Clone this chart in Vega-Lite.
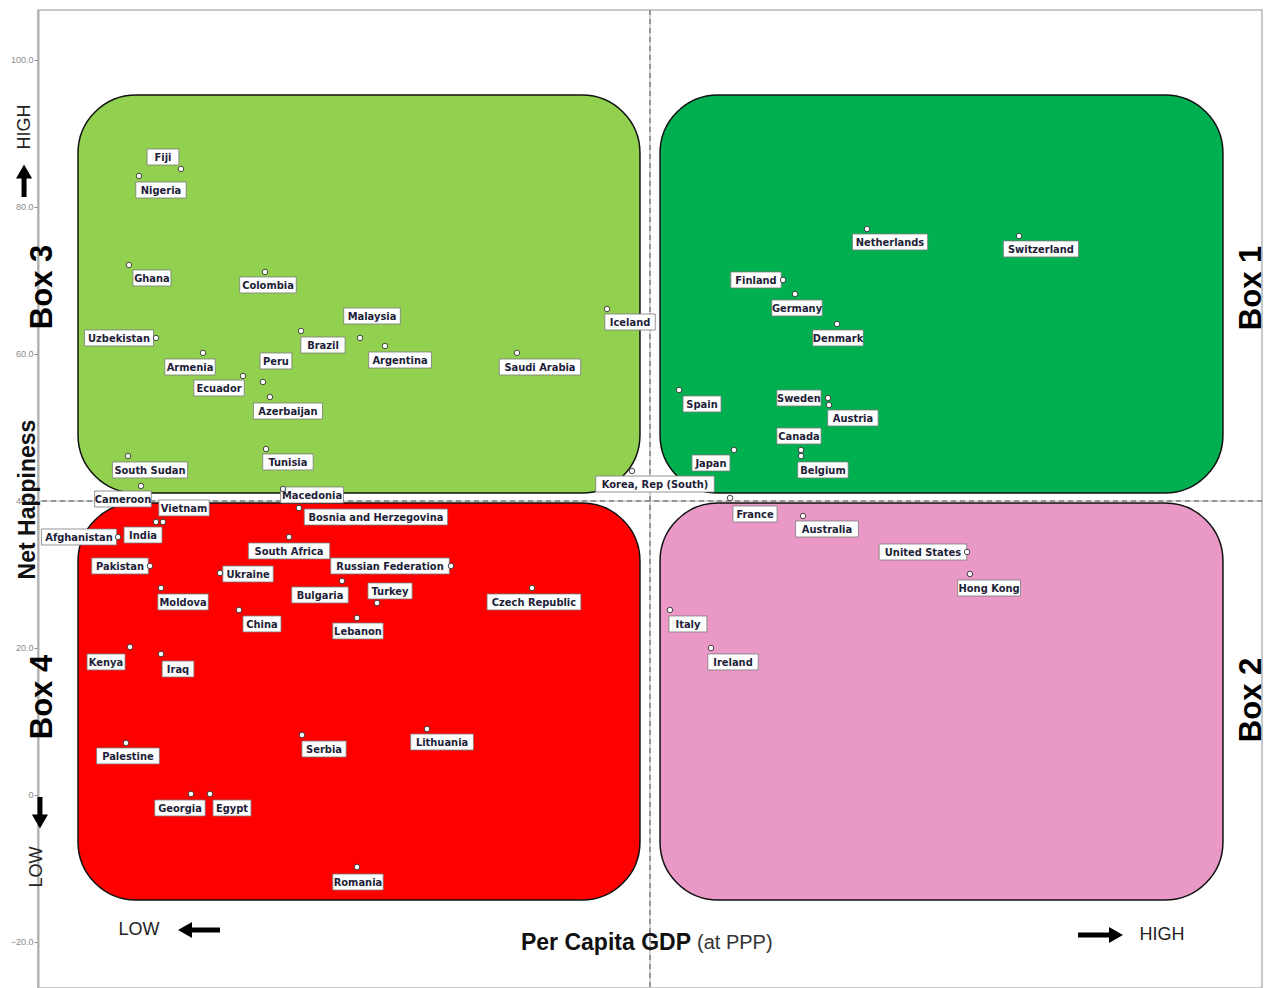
{
  "$schema": "https://vega.github.io/schema/vega-lite/v6.json",
  "width": 1224,
  "height": 978,
  "autosize": {"type": "none"},
  "padding": {"left": 38, "top": 10, "right": 10, "bottom": 0},
  "background": "white",
  "config": {"view": {"stroke": "#b5b5b5", "strokeWidth": 1.5}, "font": "Liberation Sans"},
  "datasets": {
    "boxes": [
      {"quadrant": "Box 3", "x1": 3.27, "x2": 49.18, "y1": 95.24, "y2": 41.09},
      {"quadrant": "Box 1", "x1": 50.82, "x2": 96.81, "y1": 95.24, "y2": 41.09},
      {"quadrant": "Box 4", "x1": 3.27, "x2": 49.18, "y1": 39.73, "y2": -14.29},
      {"quadrant": "Box 2", "x1": 50.82, "x2": 96.81, "y1": 39.73, "y2": -14.29}
    ],
    "countries": [
      {"name": "Fiji", "gdp": 11.68, "happiness": 85.17, "labelX": 10.21, "labelY": 86.8},
      {"name": "Nigeria", "gdp": 8.25, "happiness": 84.22, "labelX": 10.05, "labelY": 82.31},
      {"name": "Ghana", "gdp": 7.43, "happiness": 72.11, "labelX": 9.31, "labelY": 70.34},
      {"name": "Colombia", "gdp": 18.55, "happiness": 71.16, "labelX": 18.79, "labelY": 69.39},
      {"name": "Uzbekistan", "gdp": 9.64, "happiness": 62.18, "labelX": 6.62, "labelY": 62.18},
      {"name": "Malaysia", "gdp": 26.31, "happiness": 62.18, "labelX": 27.29, "labelY": 65.17},
      {"name": "Brazil", "gdp": 21.49, "happiness": 63.13, "labelX": 23.28, "labelY": 61.22},
      {"name": "Argentina", "gdp": 28.35, "happiness": 61.09, "labelX": 29.58, "labelY": 59.18},
      {"name": "Peru", "gdp": 18.38, "happiness": 56.19, "labelX": 19.44, "labelY": 59.05},
      {"name": "Ecuador", "gdp": 16.75, "happiness": 57.01, "labelX": 14.79, "labelY": 55.37},
      {"name": "Armenia", "gdp": 13.48, "happiness": 60.14, "labelX": 12.42, "labelY": 58.23},
      {"name": "Azerbaijan", "gdp": 18.95, "happiness": 54.15, "labelX": 20.42, "labelY": 52.24},
      {"name": "Tunisia", "gdp": 18.63, "happiness": 47.07, "labelX": 20.42, "labelY": 45.31},
      {"name": "Saudi Arabia", "gdp": 39.13, "happiness": 60.14, "labelX": 41.01, "labelY": 58.23},
      {"name": "Iceland", "gdp": 46.49, "happiness": 66.12, "labelX": 48.37, "labelY": 64.35},
      {"name": "South Sudan", "gdp": 7.35, "happiness": 46.12, "labelX": 9.15, "labelY": 44.22},
      {"name": "Cameroon", "gdp": 8.42, "happiness": 42.04, "labelX": 6.94, "labelY": 40.27},
      {"name": "Korea, Rep (South)", "gdp": 48.53, "happiness": 44.08, "labelX": 50.41, "labelY": 42.31},
      {"name": "Macedonia", "gdp": 20.02, "happiness": 41.63, "labelX": 22.39, "labelY": 40.82},
      {"name": "Vietnam", "gdp": 10.21, "happiness": 37.14, "labelX": 11.93, "labelY": 39.05},
      {"name": "India", "gdp": 9.64, "happiness": 37.14, "labelX": 8.58, "labelY": 35.37},
      {"name": "Afghanistan", "gdp": 6.54, "happiness": 35.1, "labelX": 3.35, "labelY": 35.1},
      {"name": "Pakistan", "gdp": 9.15, "happiness": 31.16, "labelX": 6.7, "labelY": 31.16},
      {"name": "Bosnia and Herzegovina", "gdp": 21.32, "happiness": 39.05, "labelX": 27.61, "labelY": 37.82},
      {"name": "South Africa", "gdp": 20.51, "happiness": 35.1, "labelX": 20.51, "labelY": 33.2},
      {"name": "Russian Federation", "gdp": 33.74, "happiness": 31.16, "labelX": 28.76, "labelY": 31.16},
      {"name": "Ukraine", "gdp": 14.87, "happiness": 30.2, "labelX": 17.16, "labelY": 30.07},
      {"name": "Moldova", "gdp": 10.05, "happiness": 28.16, "labelX": 11.85, "labelY": 26.26},
      {"name": "Bulgaria", "gdp": 24.84, "happiness": 29.12, "labelX": 23.04, "labelY": 27.21},
      {"name": "Turkey", "gdp": 27.7, "happiness": 26.12, "labelX": 28.76, "labelY": 27.76},
      {"name": "China", "gdp": 16.42, "happiness": 25.17, "labelX": 18.3, "labelY": 23.27},
      {"name": "Lebanon", "gdp": 26.06, "happiness": 24.08, "labelX": 26.14, "labelY": 22.31},
      {"name": "Czech Republic", "gdp": 40.36, "happiness": 28.16, "labelX": 40.52, "labelY": 26.26},
      {"name": "Kenya", "gdp": 7.52, "happiness": 20.14, "labelX": 5.56, "labelY": 18.1},
      {"name": "Iraq", "gdp": 10.05, "happiness": 19.18, "labelX": 11.44, "labelY": 17.14},
      {"name": "Palestine", "gdp": 7.19, "happiness": 7.07, "labelX": 7.35, "labelY": 5.31},
      {"name": "Serbia", "gdp": 21.57, "happiness": 8.16, "labelX": 23.37, "labelY": 6.26},
      {"name": "Lithuania", "gdp": 31.78, "happiness": 8.98, "labelX": 33.01, "labelY": 7.21},
      {"name": "Georgia", "gdp": 12.5, "happiness": 0.14, "labelX": 11.6, "labelY": -1.77},
      {"name": "Egypt", "gdp": 14.05, "happiness": 0.14, "labelX": 15.85, "labelY": -1.77},
      {"name": "Romania", "gdp": 26.06, "happiness": -9.8, "labelX": 26.14, "labelY": -11.84},
      {"name": "Netherlands", "gdp": 67.73, "happiness": 77.01, "labelX": 69.61, "labelY": 75.24},
      {"name": "Switzerland", "gdp": 80.15, "happiness": 76.05, "labelX": 81.94, "labelY": 74.29},
      {"name": "Finland", "gdp": 60.87, "happiness": 70.07, "labelX": 58.66, "labelY": 70.07},
      {"name": "Germany", "gdp": 61.85, "happiness": 68.16, "labelX": 62.01, "labelY": 66.26},
      {"name": "Denmark", "gdp": 65.28, "happiness": 64.08, "labelX": 65.36, "labelY": 62.18},
      {"name": "Spain", "gdp": 52.37, "happiness": 55.1, "labelX": 54.25, "labelY": 53.2},
      {"name": "Sweden", "gdp": 64.54, "happiness": 54.01, "labelX": 62.17, "labelY": 54.01},
      {"name": "Austria", "gdp": 64.62, "happiness": 53.06, "labelX": 66.58, "labelY": 51.29},
      {"name": "Canada", "gdp": 62.34, "happiness": 46.94, "labelX": 62.17, "labelY": 48.84},
      {"name": "Belgium", "gdp": 62.34, "happiness": 46.12, "labelX": 64.13, "labelY": 44.22},
      {"name": "Japan", "gdp": 56.86, "happiness": 46.94, "labelX": 54.98, "labelY": 45.17},
      {"name": "France", "gdp": 56.54, "happiness": 40.41, "labelX": 58.58, "labelY": 38.23},
      {"name": "Australia", "gdp": 62.5, "happiness": 37.96, "labelX": 64.46, "labelY": 36.19},
      {"name": "United States", "gdp": 75.9, "happiness": 33.06, "labelX": 72.3, "labelY": 33.06},
      {"name": "Hong Kong", "gdp": 76.14, "happiness": 30.07, "labelX": 77.7, "labelY": 28.16},
      {"name": "Italy", "gdp": 51.63, "happiness": 25.17, "labelX": 53.1, "labelY": 23.27},
      {"name": "Ireland", "gdp": 54.98, "happiness": 20.0, "labelX": 56.78, "labelY": 18.1}
    ],
    "boxLabels": [
      {"label": "Box 3", "ax": 0.41, "ay": 69.12},
      {"label": "Box 4", "ax": 0.41, "ay": 13.33},
      {"label": "Box 1", "ax": 99.18, "ay": 68.98},
      {"label": "Box 2", "ax": 99.18, "ay": 12.93}
    ],
    "sideWords": [
      {"label": "HIGH", "ax": -1.06, "ay": 90.88},
      {"label": "LOW", "ax": -0.08, "ay": -9.8}
    ],
    "bottomWords": [
      {"label": "LOW", "ax": 8.25, "ay": -18.37},
      {"label": "HIGH", "ax": 91.83, "ay": -19.05}
    ],
    "shafts": [
      {"dir": "up", "ax": -1.14, "ay": 81.36, "ax2": -1.14, "ay2": 83.95},
      {"dir": "down", "ax": 0.16, "ay": -0.27, "ax2": 0.16, "ay2": -2.72},
      {"dir": "left", "ax": 12.42, "ay": -18.37, "ax2": 14.87, "ay2": -18.37},
      {"dir": "right", "ax": 84.97, "ay": -19.05, "ax2": 87.58, "ay2": -19.05}
    ],
    "heads": [
      {"dir": "up", "ax": -1.14, "ay": 84.83},
      {"dir": "down", "ax": 0.16, "ay": -3.61},
      {"dir": "left", "ax": 12.01, "ay": -18.37},
      {"dir": "right", "ax": 88.07, "ay": -19.05}
    ]
  },
  "layer": [
    {
      "data": {"name": "boxes"},
      "mark": {"type": "rect", "cornerRadius": 58, "stroke": "#111111", "strokeWidth": 1.5},
      "encoding": {
        "x": {"field": "x1", "type": "quantitative", "scale": {"domain": [0, 100], "nice": false, "zero": false}, "axis": null},
        "x2": {"field": "x2"},
        "y": {"field": "y1", "type": "quantitative", "scale": {"domain": [-26.26, 106.8], "nice": false, "zero": false},
          "axis": {"values": [-20, 0, 20, 40, 60, 80, 100], "labelExpr": "datum.value === 0 ? '0' : format(datum.value, '.1f')", "labelFontSize": 9, "labelColor": "#8a8a8a", "labelPadding": 1, "tickSize": 4, "tickColor": "#8a8a8a", "domainColor": "#b0b0b0", "domainWidth": 2, "grid": false, "title": null}},
        "y2": {"field": "y2"},
        "fill": {"field": "quadrant", "type": "nominal", "scale": {"domain": ["Box 1", "Box 2", "Box 3", "Box 4"], "range": ["#00B050", "#EA98C6", "#92D050", "#FF0000"]}, "legend": null}
      }
    },
    {
      "data": {"values": [{"gdp": 50}]},
      "mark": {"type": "rule", "color": "#c8c8c8", "strokeWidth": 1.5},
      "encoding": {"x": {"field": "gdp", "type": "quantitative", "scale": {"domain": [0, 100], "nice": false, "zero": false}}}
    },
    {
      "data": {"values": [{"happiness": 40}]},
      "mark": {"type": "rule", "color": "#c8c8c8", "strokeWidth": 1.5},
      "encoding": {"y": {"field": "happiness", "type": "quantitative", "scale": {"domain": [-26.26, 106.8], "nice": false, "zero": false}}}
    },
    {
      "data": {"values": [{"gdp": 50}]},
      "mark": {"type": "rule", "color": "#555555", "strokeWidth": 1, "strokeDash": [5, 4]},
      "encoding": {"x": {"field": "gdp", "type": "quantitative", "scale": {"domain": [0, 100], "nice": false, "zero": false}}}
    },
    {
      "data": {"values": [{"happiness": 40}]},
      "mark": {"type": "rule", "color": "#555555", "strokeWidth": 1, "strokeDash": [5, 4]},
      "encoding": {"y": {"field": "happiness", "type": "quantitative", "scale": {"domain": [-26.26, 106.8], "nice": false, "zero": false}}}
    },
    {
      "data": {"name": "countries"},
      "mark": {"type": "rect", "fill": "white", "stroke": "#7a7a7a", "strokeWidth": 0.8, "height": 16, "width": {"expr": "length(datum.name) * 6.2 + 7"}},
      "encoding": {
        "x": {"field": "labelX", "type": "quantitative", "scale": {"domain": [0, 100], "nice": false, "zero": false}},
        "y": {"field": "labelY", "type": "quantitative", "scale": {"domain": [-26.26, 106.8], "nice": false, "zero": false}}
      }
    },
    {
      "data": {"name": "countries"},
      "mark": {"type": "text", "font": "DejaVu Sans Condensed", "fontWeight": "bold", "fontSize": 11, "color": "#1e1e38", "align": "center", "baseline": "middle", "dy": 1},
      "encoding": {
        "x": {"field": "labelX", "type": "quantitative", "scale": {"domain": [0, 100], "nice": false, "zero": false}},
        "y": {"field": "labelY", "type": "quantitative", "scale": {"domain": [-26.26, 106.8], "nice": false, "zero": false}},
        "text": {"field": "name"}
      }
    },
    {
      "data": {"name": "countries"},
      "mark": {"type": "point", "filled": true, "fill": "white", "stroke": "#333333", "strokeWidth": 0.9, "size": 30, "opacity": 1},
      "encoding": {
        "x": {"field": "gdp", "type": "quantitative", "scale": {"domain": [0, 100], "nice": false, "zero": false}},
        "y": {"field": "happiness", "type": "quantitative", "scale": {"domain": [-26.26, 106.8], "nice": false, "zero": false}}
      }
    },
    {
      "data": {"name": "boxLabels"},
      "mark": {"type": "text", "font": "Liberation Sans", "fontWeight": "bold", "fontSize": 31, "angle": 270, "align": "center", "baseline": "middle", "color": "black"},
      "encoding": {
        "x": {"field": "ax", "type": "quantitative", "scale": {"domain": [0, 100], "nice": false, "zero": false}},
        "y": {"field": "ay", "type": "quantitative", "scale": {"domain": [-26.26, 106.8], "nice": false, "zero": false}},
        "text": {"field": "label"}
      }
    },
    {
      "data": {"name": "sideWords"},
      "mark": {"type": "text", "font": "Liberation Sans", "fontSize": 18, "angle": 270, "align": "center", "baseline": "middle", "color": "#222222"},
      "encoding": {
        "x": {"field": "ax", "type": "quantitative", "scale": {"domain": [0, 100], "nice": false, "zero": false}},
        "y": {"field": "ay", "type": "quantitative", "scale": {"domain": [-26.26, 106.8], "nice": false, "zero": false}},
        "text": {"field": "label"}
      }
    },
    {
      "data": {"name": "bottomWords"},
      "mark": {"type": "text", "font": "Liberation Sans", "fontSize": 18, "align": "center", "baseline": "middle", "color": "#222222"},
      "encoding": {
        "x": {"field": "ax", "type": "quantitative", "scale": {"domain": [0, 100], "nice": false, "zero": false}},
        "y": {"field": "ay", "type": "quantitative", "scale": {"domain": [-26.26, 106.8], "nice": false, "zero": false}},
        "text": {"field": "label"}
      }
    },
    {
      "data": {"values": [{"label": "Net Happiness", "ax": -0.82, "ay": 40.2}]},
      "mark": {"type": "text", "font": "Liberation Sans", "fontWeight": "bold", "fontSize": 23, "angle": 270, "align": "center", "baseline": "middle", "color": "#111111"},
      "encoding": {
        "x": {"field": "ax", "type": "quantitative", "scale": {"domain": [0, 100], "nice": false, "zero": false}},
        "y": {"field": "ay", "type": "quantitative", "scale": {"domain": [-26.26, 106.8], "nice": false, "zero": false}},
        "text": {"field": "label"}
      }
    },
    {
      "data": {"values": [{"label": "Per Capita GDP", "ax": 39.46, "ay": -20.14}]},
      "mark": {"type": "text", "font": "Liberation Sans", "fontWeight": "bold", "fontSize": 23, "align": "left", "baseline": "middle", "color": "#111111"},
      "encoding": {
        "x": {"field": "ax", "type": "quantitative", "scale": {"domain": [0, 100], "nice": false, "zero": false}},
        "y": {"field": "ay", "type": "quantitative", "scale": {"domain": [-26.26, 106.8], "nice": false, "zero": false}},
        "text": {"field": "label"}
      }
    },
    {
      "data": {"values": [{"label": "(at PPP)", "ax": 53.84, "ay": -20.14}]},
      "mark": {"type": "text", "font": "Liberation Sans", "fontSize": 20, "align": "left", "baseline": "middle", "color": "#333333"},
      "encoding": {
        "x": {"field": "ax", "type": "quantitative", "scale": {"domain": [0, 100], "nice": false, "zero": false}},
        "y": {"field": "ay", "type": "quantitative", "scale": {"domain": [-26.26, 106.8], "nice": false, "zero": false}},
        "text": {"field": "label"}
      }
    },
    {
      "data": {"name": "shafts"},
      "mark": {"type": "rule", "color": "black", "strokeWidth": 5},
      "encoding": {
        "x": {"field": "ax", "type": "quantitative", "scale": {"domain": [0, 100], "nice": false, "zero": false}},
        "y": {"field": "ay", "type": "quantitative", "scale": {"domain": [-26.26, 106.8], "nice": false, "zero": false}},
        "x2": {"field": "ax2"},
        "y2": {"field": "ay2"}
      }
    },
    {
      "data": {"name": "heads"},
      "mark": {"type": "point", "filled": true, "color": "black", "size": 260, "opacity": 1},
      "encoding": {
        "x": {"field": "ax", "type": "quantitative", "scale": {"domain": [0, 100], "nice": false, "zero": false}},
        "y": {"field": "ay", "type": "quantitative", "scale": {"domain": [-26.26, 106.8], "nice": false, "zero": false}},
        "shape": {"field": "dir", "type": "nominal", "scale": {"domain": ["up", "down", "left", "right"], "range": ["triangle-up", "triangle-down", "triangle-left", "triangle-right"]}, "legend": null}
      }
    }
  ]
}
